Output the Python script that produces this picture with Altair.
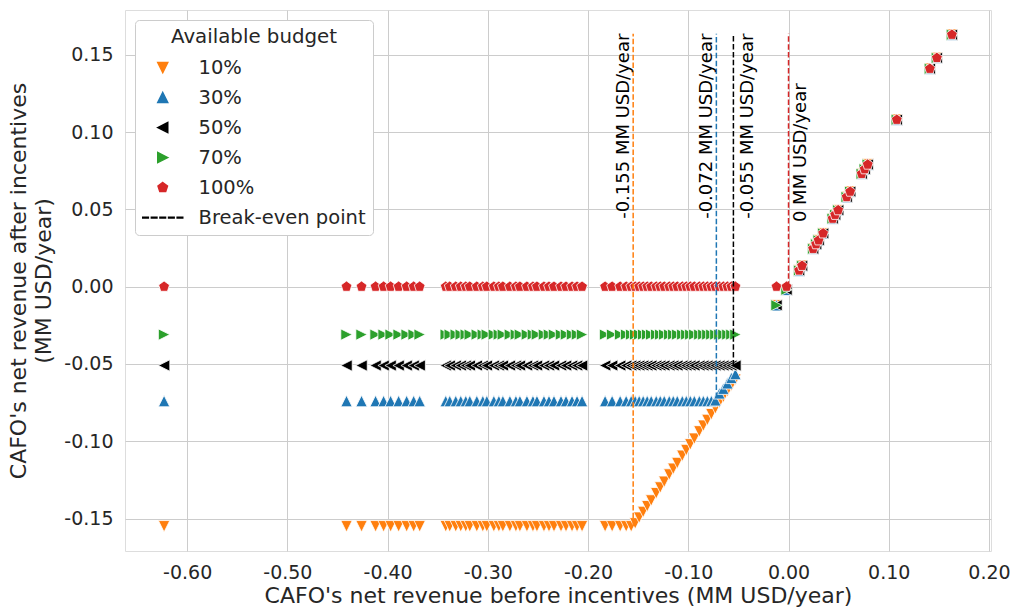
import altair as alt
import pandas as pd

# ---------------- data ----------------
BUDGETS = ["10%", "30%", "50%", "70%", "100%"]
LEGEND_DOMAIN = BUDGETS + ["Break-even point"]
COLORS = ["#ff7f0e", "#1f77b4", "#000000", "#2ca02c", "#d62728", "#000000"]

# CAFO's net revenue before incentives (MM USD/year), shared by every budget level
x_before = [
    -0.623,
    -0.441, -0.426, -0.412, -0.404, -0.397, -0.389, -0.381, -0.374, -0.368,
    -0.342, -0.338, -0.332, -0.327, -0.322, -0.318, -0.311, -0.305, -0.301,
    -0.294, -0.289, -0.285, -0.278, -0.272, -0.268, -0.261, -0.255, -0.251,
    -0.244, -0.239, -0.234, -0.227, -0.222, -0.216, -0.211, -0.206,
    -0.183, -0.176, -0.168, -0.162, -0.157,
    -0.153, -0.149, -0.145, -0.141, -0.137, -0.132, -0.128, -0.124, -0.119,
    -0.115, -0.111, -0.106, -0.102, -0.098, -0.094, -0.089, -0.085, -0.081,
    -0.077, -0.073, -0.069, -0.065, -0.061, -0.057, -0.053,
    -0.012, -0.002,
    0.0105, 0.0135, 0.0245, 0.0275, 0.0300, 0.0345, 0.0440, 0.0465, 0.0495,
    0.0580, 0.0615, 0.0730, 0.0760, 0.0790, 0.1080, 0.1410, 0.1480, 0.1630,
]

y_pos = [0.0105, 0.0135, 0.0245, 0.0275, 0.0300, 0.0345, 0.0440, 0.0465, 0.0495,
         0.0580, 0.0615, 0.0730, 0.0760, 0.0790, 0.1080, 0.1410, 0.1480, 0.1630]

# CAFO's net revenue after incentives (MM USD/year), one list per budget level
y_10 = [-0.155] * 41 + [
    -0.1531, -0.1494, -0.1457, -0.1420, -0.1383, -0.1336, -0.1299, -0.1262, -0.1215,
    -0.1178, -0.1141, -0.1094, -0.1057, -0.1020, -0.0983, -0.0936, -0.0899, -0.0862,
    -0.0825, -0.0787, -0.0750, -0.0713, -0.0676, -0.0639, -0.0601,
] + [-0.012, -0.002] + y_pos
y_30 = [-0.074] * 60 + [-0.0735, -0.069, -0.066, -0.0625, -0.059, -0.0565] + [-0.012, -0.002] + y_pos
y_50 = [-0.051] * 66 + [-0.012, -0.002] + y_pos
y_70 = [-0.031] * 66 + [-0.012, -0.002] + y_pos
y_100 = [0.0] * 66 + [0.0, 0.0] + y_pos

# break-even points
be_budget = ["10%", "30%", "50%", "100%"]
be_x = [-0.155, -0.072, -0.055, 0.0]
be_ymin = [-0.155, -0.072, -0.051, 0.0]
be_ymax = [0.1637, 0.1637, 0.1637, 0.1637]
be_label = ["-0.155 MM USD/year", "-0.072 MM USD/year", "-0.055 MM USD/year", "0 MM USD/year"]
be_label_x = [-0.155, -0.072, -0.049, 0.003]
be_label_y = [0.1637, 0.1637, 0.1637, 0.1315]

x_ticks = [-0.6, -0.5, -0.4, -0.3, -0.2, -0.1, 0.0, 0.1, 0.2]
y_ticks = [-0.15, -0.10, -0.05, 0.0, 0.05, 0.10, 0.15]

# ---------------- tables ----------------
rows = []
for b, ys in zip(BUDGETS, [y_10, y_30, y_50, y_70, y_100]):
    for xv, yv in zip(x_before, ys):
        rows.append({"budget": b, "x": xv, "y": yv})
pts = pd.DataFrame(rows)

be = pd.DataFrame({"budget": be_budget, "x": be_x, "ymin": be_ymin, "ymax": be_ymax,
                   "label": be_label, "lx": be_label_x, "ly": be_label_y})

# ---------------- styling ----------------
FONT = "DejaVu Sans"
TXT = "#262626"
GRID = "#cccccc"

tri_up = "M0,-1L1,1L-1,1Z"
tri_down = "M0,1L1,-1L-1,-1Z"
tri_left = "M-1,0L1,-1L1,1Z"
tri_right = "M1,0L-1,-1L-1,1Z"
pentagon = "M0,-1L0.951,-0.309L0.588,0.809L-0.588,0.809L-0.951,-0.309Z"
dashes = ("M-4,-0.07H-2.88V0.07H-4Z M-2.28,-0.07H-1.16V0.07H-2.28Z "
          "M-0.56,-0.07H0.56V0.07H-0.56Z M1.16,-0.07H2.28V0.07H1.16Z "
          "M2.88,-0.07H4V0.07H2.88Z")
SHAPES = [tri_down, tri_up, tri_left, tri_right, pentagon, dashes]
STROKES = ["white"] * 5 + ["black"]

legend = alt.Legend(
    title="Available budget", orient="none", legendX=10, legendY=10,
    titleFontSize=19.8, titleFontWeight="normal", titleColor=TXT, titleFont=FONT,
    titleAnchor="middle", titlePadding=11,
    labelFontSize=19.5, labelColor=TXT, labelFont=FONT, labelLimit=400,
    symbolSize=100, symbolOffset=11, labelOffset=26, rowPadding=9,
    padding=7, fillColor="white", strokeColor=GRID, cornerRadius=4,
)

xscale = alt.Scale(domain=[-0.662, 0.202], nice=False, zero=False)
yscale = alt.Scale(domain=[-0.171, 0.179], nice=False, zero=False)

x_axis = alt.Axis(
    values=x_ticks, labelExpr="replace(format(datum.value, '.2f'), '\u2212', '-')",
    title="CAFO's net revenue before incentives (MM USD/year)",
    ticks=False, tickSize=0, domain=False, grid=True, gridColor=GRID,
    labelFontSize=19, labelColor=TXT, labelFont=FONT, labelPadding=12,
    titleFontSize=22, titleFontWeight="normal", titleColor=TXT, titleFont=FONT, titlePadding=3,
)
y_axis = alt.Axis(
    values=y_ticks, labelExpr="replace(format(datum.value, '.2f'), '\u2212', '-')",
    title=["CAFO's net revenue after incentives", "(MM USD/year)"],
    ticks=False, tickSize=0, domain=False, grid=True, gridColor=GRID,
    labelFontSize=19, labelColor=TXT, labelFont=FONT, labelPadding=12,
    titleFontSize=22, titleLineHeight=25, titleFontWeight="normal", titleColor=TXT,
    titleFont=FONT, titlePadding=8,
)

points = alt.Chart(pts).mark_point(filled=True, size=130, strokeWidth=0.8, opacity=1).encode(
    x=alt.X("x:Q", scale=xscale, axis=x_axis),
    y=alt.Y("y:Q", scale=yscale, axis=y_axis),
    color=alt.Color("budget:N", scale=alt.Scale(domain=LEGEND_DOMAIN, range=COLORS), legend=legend),
    shape=alt.Shape("budget:N", scale=alt.Scale(domain=LEGEND_DOMAIN, range=SHAPES), legend=legend),
    stroke=alt.Stroke("budget:N", scale=alt.Scale(domain=LEGEND_DOMAIN, range=STROKES), legend=legend),
)

rules = alt.Chart(be).mark_rule(strokeWidth=1.5, strokeDash=[5.5, 2.4]).encode(
    x=alt.X("x:Q", scale=xscale),
    y=alt.Y("ymin:Q", scale=yscale),
    y2="ymax:Q",
    color=alt.Color("budget:N", scale=alt.Scale(domain=LEGEND_DOMAIN, range=COLORS), legend=None),
)

text_left = alt.Chart(be).transform_filter(
    "datum.budget == '10%' || datum.budget == '30%'"
).mark_text(
    angle=270, align="right", baseline="bottom", fontSize=18, font=FONT, color="black"
).encode(x=alt.X("lx:Q", scale=xscale), y=alt.Y("ly:Q", scale=yscale), text="label:N")

text_right = alt.Chart(be).transform_filter(
    "datum.budget == '50%' || datum.budget == '100%'"
).mark_text(
    angle=270, align="right", baseline="top", fontSize=18, font=FONT, color="black"
).encode(x=alt.X("lx:Q", scale=xscale), y=alt.Y("ly:Q", scale=yscale), text="label:N")

chart = alt.layer(points, rules, text_left, text_right).properties(
    width=866, height=541,
    autosize=alt.AutoSizeParams(type="none"),
    padding={"left": 125, "top": 10, "right": 22, "bottom": 62},
).configure_view(stroke=GRID, strokeWidth=1.2).configure(
    font=FONT, background="white"
)

chart.save("out.html", embed_options={"renderer": "svg", "actions": False})
